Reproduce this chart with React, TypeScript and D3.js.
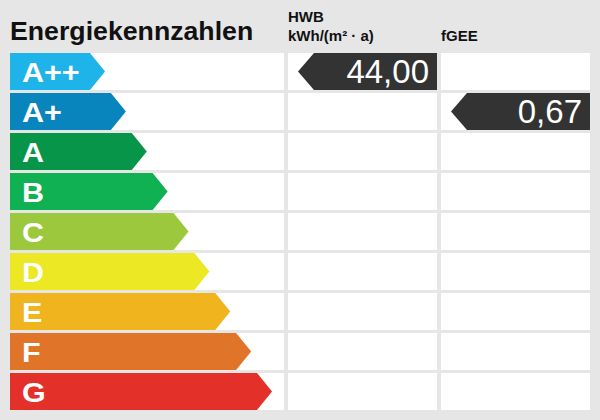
import { useEffect, useRef } from "react"
import * as d3 from "d3"

// energy classes and the arrow colours
const classes = ["A++", "A+", "A", "B", "C", "D", "E", "F", "G"]
const classColors = ["#1eb3e9", "#0985be", "#07954a", "#10b152", "#9bc83c", "#ece823", "#f0b41e", "#e07428", "#e3312a"]

// indicator columns
const indicatorNames = ["HWB", "fGEE"]
const indicatorUnits = ["kWh/(m² · a)", ""]
const indicatorValues = [44.0, 0.67]
const indicatorClasses = ["A++", "A+"]

const title = "Energiekennzahlen"

export default function App() {
    const ref = useRef<SVGSVGElement>(null)

    useEffect(() => {
        const width = 600
        const height = 420
        const font = "'Liberation Sans', Arial, sans-serif"
        const bg = "#e6e6e6"
        const slant = 15
        const pointerWidth = 139

        const de = d3.formatLocale({ decimal: ",", thousands: ".", grouping: [3], currency: ["", " €"] })
        const fmt = de.format(".2f")

        // rows
        const y = d3.scaleBand<string>().domain(classes).range([53, 410]).paddingInner(0.075).paddingOuter(0)
        // arrow tip grows with class
        const tipX = d3.scaleLinear().domain([0, classes.length - 1]).range([105, 272])
        const color = d3.scaleOrdinal<string, string>().domain(classes).range(classColors)

        // columns: label column + one per indicator
        const labelCol = { x0: 10, x1: 284 }
        const col = d3.scaleBand<string>().domain(indicatorNames).range([288, 590]).paddingInner(4 / 153).paddingOuter(0)

        const svg = d3.select(ref.current)
        svg.selectAll("*").remove()
        svg.attr("width", width).attr("height", height).attr("viewBox", `0 0 ${width} ${height}`)

        svg.append("rect").attr("width", width).attr("height", height).attr("fill", bg)

        svg.append("text")
            .attr("x", 10).attr("y", 40)
            .attr("font-family", font).attr("font-weight", "bold").attr("font-size", 26.7)
            .attr("fill", "#111")
            .text(title)

        // header texts
        indicatorNames.forEach((name, i) => {
            const x = col(name)!
            const unit = indicatorUnits[i]
            const g = svg.append("g")
                .attr("font-family", font).attr("font-weight", "bold").attr("font-size", 15).attr("fill", "#111")
            if (unit) {
                g.append("text").attr("x", x).attr("y", 21.5).text(name)
                g.append("text").attr("x", x).attr("y", 40.5).text(unit)
            } else {
                g.append("text").attr("x", x).attr("y", 40.5).text(name)
            }
        })

        const bw = y.bandwidth()
        const rows = svg.append("g")
        classes.forEach((c, i) => {
            const top = y(c)!
            rows.append("rect").attr("x", labelCol.x0).attr("y", top).attr("width", labelCol.x1 - labelCol.x0).attr("height", bw).attr("fill", "#fff")
            indicatorNames.forEach(n => {
                rows.append("rect").attr("x", col(n)!).attr("y", top).attr("width", col.bandwidth()).attr("height", bw).attr("fill", "#fff")
            })
            const tip = tipX(i)
            rows.append("path")
                .attr("d", `M${labelCol.x0} ${top} H${tip - slant} L${tip} ${top + bw / 2} L${tip - slant} ${top + bw} H${labelCol.x0} Z`)
                .attr("fill", color(c))
            rows.append("text")
                .attr("transform", `translate(22, ${top + bw / 2 + 10}) scale(1.13, 1)`)
                .attr("font-family", font).attr("font-weight", "bold").attr("font-size", 27)
                .attr("fill", "#fff")
                .text(c)
        })

        // value pointers
        indicatorNames.forEach((n, i) => {
            const top = y(indicatorClasses[i])!
            const x1 = col(n)! + col.bandwidth()
            const tip = x1 - pointerWidth
            const g = svg.append("g")
            g.append("path")
                .attr("d", `M${tip} ${top + bw / 2} L${tip + 16} ${top} H${x1} V${top + bw} H${tip + 16} Z`)
                .attr("fill", "#333")
            g.append("text")
                .attr("x", x1 - 8).attr("y", top + bw / 2 + 11)
                .attr("text-anchor", "end")
                .attr("font-family", font).attr("font-size", 33)
                .attr("fill", "#fff")
                .text(fmt(indicatorValues[i]))
        })
    }, [])

    return (
        <svg ref={ref} style={{ position: "absolute", left: 0, top: 0, display: "block" }}></svg>
    )
}
